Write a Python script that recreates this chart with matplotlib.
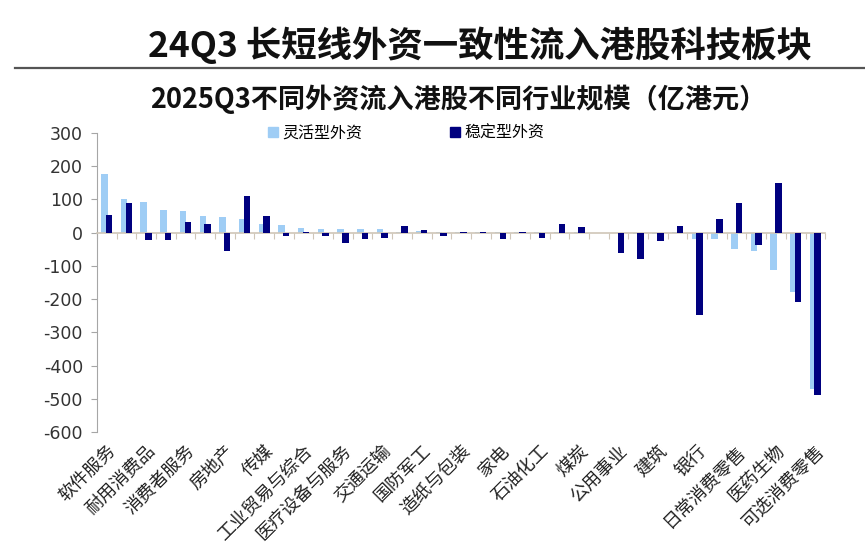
import numpy as np
import matplotlib
matplotlib.use("Agg")
import matplotlib.pyplot as plt
from matplotlib.lines import Line2D
from matplotlib.patches import Patch

plt.rcParams['font.family'] = ['Noto Sans CJK SC', 'DejaVu Sans']

# --- data (亿港元), 37 industries, only every other name is shown on the axis ---
shown_labels = ["软件服务", "耐用消费品", "消费者服务", "房地产", "传媒",
                "工业贸易与综合", "医疗设备与服务", "交通运输", "国防军工", "造纸与包装",
                "家电", "石油化工", "煤炭", "公用事业", "建筑",
                "银行", "日常消费零售", "医药生物", "可选消费零售"]

flexible = [176, 100, 92, 68, 65, 49, 48, 40, 27, 24,
            13, 12, 12, 10, 10, 2, 5, 3, 2, 2,
            1, 2, 1, 2, 1, -2, -2, -3, -3, 3,
            -20, -20, -50, -55, -112, -178, -471]
stable = [52, 90, -21, -21, 31, 25, -54, 109, 51, -10,
          3, -10, -30, -18, -17, 20, 7, -9, 3, 3,
          -20, 2, -15, 26, 17, -2, -60, -78, -25, 19,
          -248, 42, 88, -38, 150, -210, -489]

yticks = list(range(300, -601, -100))

LIGHT = "#9FCDF5"
DARK = "#00007F"

fig = plt.figure(figsize=(8.65, 5.47), dpi=100)
ax = fig.add_axes([0.112, 0.21, 0.842, 0.547])

n = len(flexible)
x = np.arange(n)
ax.bar(x - 0.12, flexible, 0.33, color=LIGHT, zorder=2)
ax.bar(x + 0.12, stable, 0.33, color=DARK, zorder=3)

ax.set_xlim(-0.5, n - 0.5)
ax.set_ylim(-600, 300)

# y axis
ax.set_yticks(yticks)
ax.set_yticklabels([str(v) for v in yticks], family='DejaVu Sans', fontsize=12.5, color='#333333')
ax.tick_params(axis='y', direction='out', length=4, color='#A6A6A6', pad=6)

# category axis sits on zero, tick marks at the boundaries
for s in ['top', 'right']:
    ax.spines[s].set_visible(False)
ax.spines['left'].set_color('#A6A6A6')
ax.spines['bottom'].set_position(('data', 0))
ax.spines['bottom'].set_color('#CFC6B8')
ax.spines['bottom'].set_linewidth(1.2)
ax.set_xticks(np.arange(n + 1) - 0.5)
ax.set_xticklabels([''] * (n + 1))
ax.tick_params(axis='x', direction='out', length=4, color='#CFC6B8')

# names drawn under the plot area
sec = ax.secondary_xaxis(0)
sec.set_xticks(x[::2])
sec.set_xticklabels(shown_labels, rotation=45, ha='right', rotation_mode='anchor',
                    fontsize=13, color='#222222')
sec.tick_params(length=0, pad=7)
sec.spines['bottom'].set_visible(False)

# legend
handles = [Patch(color=LIGHT, label="灵活型外资"), Patch(color=DARK, label="稳定型外资")]
fig.legend(handles=handles, loc='center', bbox_to_anchor=(0.47, 0.757), ncol=2,
           frameon=False, fontsize=11.5, handlelength=0.6, handleheight=0.6,
           handletextpad=0.3, columnspacing=5.5)

# titles
fig.text(148 / 865, 1 - 45 / 547, "24Q3 长短线外资一致性流入港股科技板块",
         fontsize=25.5, fontweight='bold', va='center', ha='left', color='#111111')
fig.add_artist(Line2D([15 / 865, 1.0], [1 - 68 / 547] * 2, color='#555555', lw=1.6))
fig.text(150 / 865, 1 - 99 / 547, "2025Q3不同外资流入港股不同行业规模（亿港元）",
         fontsize=19.5, fontweight='bold', va='center', ha='left', color='#111111')

fig.savefig("out.png", dpi=100)
